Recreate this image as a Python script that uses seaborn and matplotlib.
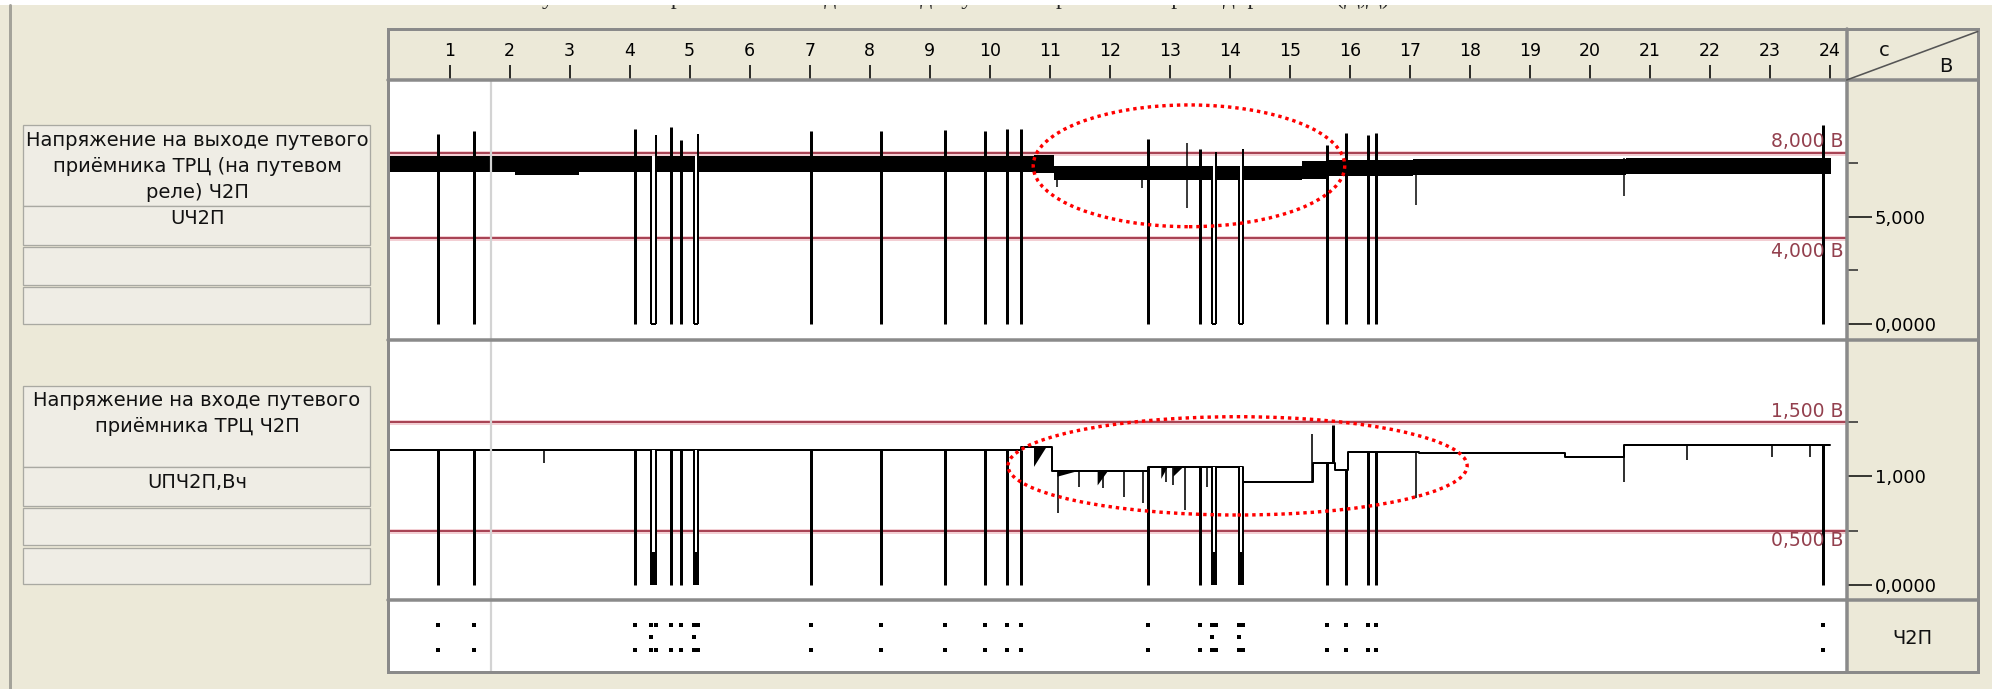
import numpy as np
import pandas as pd
import matplotlib
matplotlib.use("Agg")
import matplotlib.pyplot as plt
from matplotlib.patches import Rectangle, Ellipse
from matplotlib.lines import Line2D
import seaborn as sns

sns.set_theme(style="white")
plt.rcParams["font.family"] = ["DejaVu Sans"]

# ------------------------------------------------------------------ data
ruler_ticks = list(range(1, 25))

# output voltage (top trace): thick noisy band, given as segments
top_band_edges = [0.0, 2.09, 3.16, 10.73, 11.07, 15.2, 15.62, 17.05, 20.6, 24.02]
top_band_low = [7.10, 6.95, 7.08, 7.04, 6.72, 6.78, 6.90, 6.98, 7.00]
top_band_high = [7.83, 7.83, 7.83, 7.90, 7.40, 7.62, 7.66, 7.72, 7.76]

# drop-outs to zero (common to both traces)
event_start = [0.811, 1.416, 4.082, 4.357, 4.687, 4.853, 5.070, 7.023, 8.182,
               9.254, 9.923, 10.288, 10.518, 12.644, 13.510, 13.704, 14.149,
               15.620, 15.936, 16.300, 16.436, 23.884]
event_end = [0.811, 1.416, 4.082, 4.432, 4.687, 4.853, 5.133, 7.023, 8.182,
             9.254, 9.923, 10.288, 10.518, 12.644, 13.510, 13.765, 14.217,
             15.620, 15.936, 16.300, 16.436, 23.884]
top_event_peak = [8.9, 9.0, 9.1, 8.83, 9.2, 8.6, 8.9, 9.0, 9.0, 9.05, 9.0,
                  9.1, 9.1, 8.63, 8.16, 8.05, 8.16, 8.36, 8.91, 8.83, 8.91, 9.3]

# short spikes of the top trace that do not reach zero
top_spike_t = [11.12, 12.54, 13.28, 17.10, 20.57]
top_spike_low = [6.40, 6.36, 5.40, 5.56, 6.00]
top_spike_high = [7.40, 7.38, 8.45, 7.70, 7.76]

# input voltage (bottom trace): step levels
bot_step_t = [0.0, 10.52, 11.03, 12.64, 14.22, 15.38, 15.75, 15.97, 17.15,
              19.59, 20.56, 24.0]
bot_step_v = [1.245, 1.265, 1.05, 1.08, 0.95, 1.12, 1.057, 1.225, 1.215,
              1.18, 1.285, 1.285]
bot_spike_t = [2.58, 11.14, 11.48, 11.89, 12.24, 12.55, 12.94, 13.06, 13.25,
               13.62, 15.37, 15.72, 17.11, 20.56, 21.61, 23.03, 23.67]
bot_spike_v = [1.12, 0.66, 0.90, 0.89, 0.81, 0.75, 0.95, 0.92, 0.69, 0.90,
               1.39, 1.47, 0.80, 0.95, 1.15, 1.18, 1.18]
bot_fill_t0 = [10.73, 11.12, 11.79, 12.85, 13.05]
bot_fill_t1 = [10.93, 11.45, 11.96, 12.95, 13.20]
bot_fill_low = [1.09, 1.00, 0.92, 0.98, 1.00]

top_thresholds = [8.0, 4.0]
top_threshold_labels = ["8,000 В", "4,000 В"]
bot_thresholds = [1.5, 0.5]
bot_threshold_labels = ["1,500 В", "0,500 В"]

top_major = [0.0, 5.0]
top_major_labels = ["0,0000", "5,000"]
top_minor = [2.5, 7.5]
bot_major = [0.0, 1.0]
bot_major_labels = ["0,0000", "1,000"]
bot_minor = [0.5, 1.5]

cursor_t = 1.691

top_title = ["Напряжение на выходе путевого", "приёмника ТРЦ (на путевом", "реле) Ч2П"]
top_name = "UЧ2П"
bot_title = ["Напряжение на входе путевого", "приёмника ТРЦ Ч2П"]
bot_name = "UПЧ2П,Вч"
track_name = "Ч2П"
page_title = "Рисунок 3 – Напряжения на входе и выходе путевого приёмника при кодировании (Д,Д)"

# ------------------------------------------------------------------ layout
W, H = 1992, 689
BEIGE = "#ece9d8"
GRAY = "#8a8a8a"
PX = 0.72  # points per pixel at dpi 100

T0 = (388 - 389.5) / 60.02
T1 = (1846.7 - 389.5) / 60.02


def rect(x0, y0, x1, y1):
    return [x0 / W, 1 - y1 / H, (x1 - x0) / W, (y1 - y0) / H]


def level_at(edges, vals, t):
    i = int(np.searchsorted(edges, t, side="right") - 1)
    i = max(0, min(i, len(vals) - 1))
    return vals[i]


fig = plt.figure(figsize=(W / 100, H / 100), dpi=100, facecolor=BEIGE)

ax_ruler = fig.add_axes(rect(388, 29, 1846.7, 80))
ax_top = fig.add_axes(rect(388, 80, 1846.7, 340))
ax_bot = fig.add_axes(rect(388, 340, 1846.7, 600))
ax_dot = fig.add_axes(rect(388, 600, 1846.7, 671.7))

for ax in (ax_ruler, ax_top, ax_bot, ax_dot):
    ax.set_xlim(T0, T1)
    for sp in ax.spines.values():
        sp.set_visible(False)
    ax.grid(False)
ax_ruler.set_facecolor(BEIGE)
for ax in (ax_top, ax_bot, ax_dot):
    ax.set_facecolor("white")
    ax.set_xticks([])

# ---- ruler
ax_ruler.set_ylim(0, 1)
ax_ruler.set_yticks([])
ax_ruler.set_xticks(ruler_ticks)
ax_ruler.tick_params(axis="x", direction="in", length=15 * PX, width=1.6 * PX,
                     color="black", bottom=True, labelbottom=False)
for t in ruler_ticks:
    ax_ruler.text(t, 0.57, str(t), ha="center", va="center", fontsize=12.5,
                  color="black", transform=ax_ruler.get_xaxis_transform())

# ---- top panel
ax_top.set_ylim(-0.748, 11.40)
edges = top_band_edges
ax_top.fill_between(edges, top_band_low + [top_band_low[-1]],
                    top_band_high + [top_band_high[-1]], step="post",
                    color="black", lw=0, zorder=3)
ax_top.vlines(top_spike_t, top_spike_low, top_spike_high, color="black",
              lw=1.5 * PX, zorder=3)
for s, e, p in zip(event_start, event_end, top_event_peak):
    hi = level_at(edges, top_band_high, s)
    if e - s < 1e-6:
        ax_top.vlines(s, 0, p, color="black", lw=3 * PX, zorder=4)
    else:
        ax_top.fill_between([s, e], [0, 0], [hi, hi], color="white", lw=0, zorder=4)
        ax_top.vlines(s, 0, hi, color="black", lw=2 * PX, zorder=5)
        ax_top.vlines(e, 0, p, color="black", lw=2 * PX, zorder=5)
        ax_top.hlines(0, s, e, color="black", lw=2 * PX, zorder=5)

# ---- bottom panel
ax_bot.set_ylim(-0.136, 2.25)
bot_df = pd.DataFrame({"t": bot_step_t, "v": bot_step_v})
sns.lineplot(data=bot_df, x="t", y="v", ax=ax_bot, color="black", lw=2.0 * PX,
             drawstyle="steps-post", estimator=None, zorder=3)
for t0, t1, lo in zip(bot_fill_t0, bot_fill_t1, bot_fill_low):
    lv = level_at(bot_step_t, bot_step_v, t0)
    ax_bot.fill_between([t0, t1], [lo, lv], [lv, lv], color="black", lw=0, zorder=3)
for t, v in zip(bot_spike_t, bot_spike_v):
    lv = level_at(bot_step_t, bot_step_v, t)
    ax_bot.vlines(t, min(lv, v), max(lv, v), color="black",
                  lw=(3 if v > 1.4 else 1.6) * PX, zorder=3)
for s, e in zip(event_start, event_end):
    lv = level_at(bot_step_t, bot_step_v, s)
    if e - s < 1e-6:
        ax_bot.vlines(s, 0, lv, color="black", lw=3 * PX, zorder=4)
    else:
        ax_bot.fill_between([s, e], [0, 0], [lv, lv], color="white", lw=0, zorder=4)
        ax_bot.vlines([s, e], 0, lv, color="black", lw=2 * PX, zorder=5)
        ax_bot.fill_between([s, e], [0, 0], [0.3, 0.3], color="black", lw=0, zorder=5)
ax_bot.set_xlabel("")
ax_bot.set_ylabel("")
ax_bot.set_xlim(T0, T1)

# ---- thresholds and right-hand scale
def thresholds(ax, vals, labels, offsets):
    for v, lab, off in zip(vals, labels, offsets):
        ax.axhline(v, color="#f3cfd4", lw=5 * PX, zorder=1)
        ax.axhline(v, color="#9b2d3f", lw=1.7 * PX, zorder=2)
        ax.annotate(lab, xy=(0.9978, v), xycoords=("axes fraction", "data"),
                    xytext=(0, off), textcoords="offset pixels", ha="right",
                    va="bottom" if off > 0 else "top", fontsize=13.5,
                    color="#93404e", zorder=6)


thresholds(ax_top, top_thresholds, top_threshold_labels, [2, -4])
thresholds(ax_bot, bot_thresholds, bot_threshold_labels, [0.5, -0.5])


def right_scale(ax, major, labels, minor):
    ax.yaxis.tick_right()
    ax.set_yticks(major)
    ax.set_yticklabels(labels)
    ax.set_yticks(minor, minor=True)
    ax.tick_params(axis="y", which="major", direction="out", length=25 * PX,
                   width=1.5 * PX, pad=3 * PX, labelsize=13, colors="black",
                   right=True, left=False)
    ax.tick_params(axis="y", which="minor", direction="out", length=11 * PX,
                   width=1.5 * PX, right=True, left=False)


right_scale(ax_top, top_major, top_major_labels, top_minor)
right_scale(ax_bot, bot_major, bot_major_labels, bot_minor)

# ---- ellipses
ell_style = dict(fill=False, edgecolor="#ff0000", lw=3.4 * PX,
                 linestyle=(0, (1.0, 1.15)), zorder=8)
ax_top.add_patch(Ellipse((13.32, 7.39), 5.19, 5.69, **ell_style))
ax_bot.add_patch(Ellipse((14.13, 1.095), 7.65, 0.902, **ell_style))

# ---- event strip
dot_t, dot_row = [], []
for s, e in zip(event_start, event_end):
    dot_t += [s, s]
    dot_row += [1, 3]
    if e - s > 1e-6:
        dot_t += [e, e, s]
        dot_row += [1, 3, 2]
dots = pd.DataFrame({"t": dot_t, "row": dot_row})
ax_dot.set_ylim(4.81, -1.04)
sns.scatterplot(data=dots, x="t", y="row", ax=ax_dot, color="black", marker="s",
                s=9, linewidth=0, zorder=3)
ax_dot.set_xlim(T0, T1)
ax_dot.set_yticks([])
ax_dot.set_xlabel("")
ax_dot.set_ylabel("")

# ---- cursor line
for ax in (ax_top, ax_bot, ax_dot):
    ax.axvline(cursor_t, color="#d3d3d3", lw=2.2 * PX, zorder=7)

# ------------------------------------------------------------------ chrome
ov = fig.add_axes([0, 0, 1, 1], zorder=10)
ov.set_xlim(0, W)
ov.set_ylim(H, 0)
ov.axis("off")

ov.add_patch(Rectangle((0, 0), W, 5, facecolor="white", edgecolor="none"))
fig.text(1390 / W, 1 - 4 / H, page_title, ha="right", va="baseline",
         fontsize=17, family=["Liberation Serif", "DejaVu Serif"])
ov.add_line(Line2D([9.5, 9.5], [5, H], color="#a4a39a", lw=3 * PX))

# left captions
boxes = [(125, 206), (206, 245), (246.5, 284.5), (287, 324),
         (386, 467), (467, 505.5), (507.5, 545), (548, 584)]
for y0, y1 in boxes:
    ov.add_patch(Rectangle((22.7, y0), 370 - 22.7, y1 - y0, facecolor="#efede5",
                           edgecolor="#a9a9a2", lw=1.3 * PX))
for txt, y in zip(top_title, [140, 166, 192]):
    ov.text(197, y, txt, ha="center", va="center", fontsize=14, color="#111111")
ov.text(197, 219, top_name, ha="center", va="center", fontsize=14, color="#111111")
for txt, y in zip(bot_title, [400, 426]):
    ov.text(197, y, txt, ha="center", va="center", fontsize=14, color="#111111")
ov.text(197, 483, bot_name, ha="center", va="center", fontsize=14, color="#111111")

# frame and separators
ov.add_patch(Rectangle((388, 29), 1977.7 - 388, 671.7 - 29, facecolor="none",
                       edgecolor=GRAY, lw=3 * PX))
for y in (80, 340, 600):
    ov.add_line(Line2D([388, 1977.7], [y, y], color=GRAY, lw=3.5 * PX))
ov.add_line(Line2D([1846.7, 1846.7], [29, 671.7], color=GRAY, lw=3.5 * PX))
ov.add_line(Line2D([1846.7, 1977.7], [80, 31.5], color="#555555", lw=1.6 * PX))
ov.text(1884, 51, "с", ha="center", va="center", fontsize=14, color="#111111")
ov.text(1946, 67, "В", ha="center", va="center", fontsize=14, color="#111111")
ov.text(1912, 638, track_name, ha="center", va="center", fontsize=14, color="#111111")

fig.savefig("out.png", dpi=100, facecolor=BEIGE)
